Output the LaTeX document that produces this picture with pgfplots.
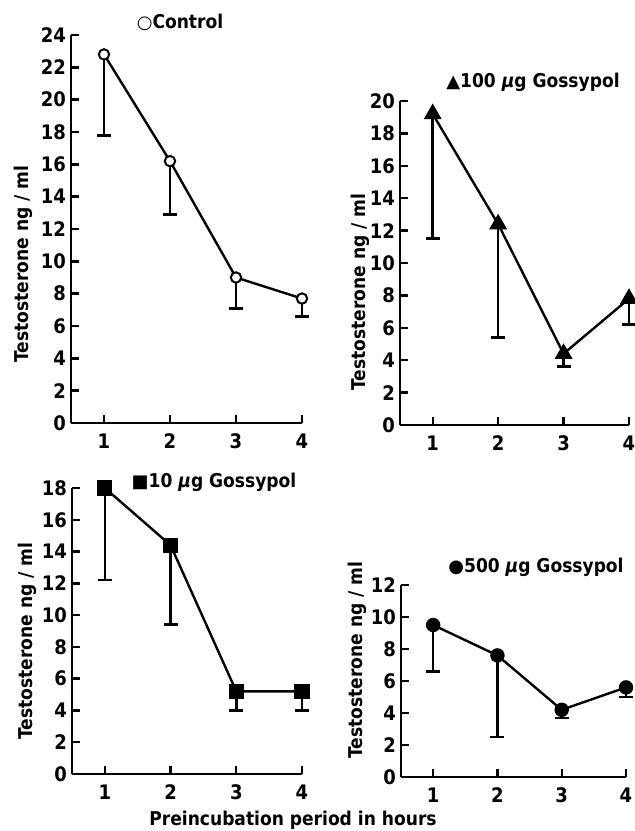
\documentclass[border=0pt]{standalone}
\usepackage{fontspec}
\setmainfont{DejaVu Sans Condensed}
\newfontfamily\sym{DejaVu Sans}
\usepackage{pgfplots}
\pgfplotsset{compat=1.18}

\pgfplotsset{
  panel/.style={
    scale only axis,
    axis x line=bottom, axis y line=left,
    axis line style={-, line width=1.2pt},
    xmin=0.5, xmax=4, ymin=0,
    xtick={1,2,3,4}, ytick distance=2,
    major tick length=4pt,
    tick style={line width=1.2pt, black},
    tick align=inside,
    ticklabel style={font=\fontsize{10}{11}\selectfont\bfseries},
    xticklabel style={yshift=-2pt},
    yticklabel style={xshift=1pt},
    /pgf/number format/assume math mode=true,
    clip=false,
    every axis plot/.append style={line width=1.2pt, black},
  },
  err/.style={
    error bars/.cd, y dir=minus, y explicit,
    error bar style={line width=1.3pt},
    error mark=|,
    error mark options={mark size=3.5pt, line width=1.3pt},
  },
}
\newcommand{\lab}{\fontsize{9.5}{10}\selectfont\bfseries}

\begin{document}
\begin{tikzpicture}[x=0.5pt, y=-0.5pt]
\useasboundingbox (0,0) rectangle (635,831);
\coordinate (A) at (71,423);
\coordinate (B) at (400,425);
\coordinate (C) at (72,774);
\coordinate (D) at (401,777);

% control
\begin{axis}[panel, at={(A)}, anchor=origin, width=115.5pt, height=194pt, ymax=24]
  \addplot[mark=*, mark options={fill=white, mark size=2.6pt, line width=1pt}, err]
  coordinates {(1,22.8) -= (0,5.0) (2,16.2) -= (0,3.3) (3,9.0) -= (0,1.9) (4,7.7) -= (0,1.1)};
\end{axis}

% 100 ug
\begin{axis}[panel, at={(B)}, anchor=origin, width=114.5pt, height=162pt, ymax=20]
  \addplot[mark=triangle*, mark options={mark size=4pt}, err]
  coordinates {(1,19.2) -= (0,7.7) (2,12.4) -= (0,7.0) (3,4.4) -= (0,0.8) (4,7.8) -= (0,1.6)};
\end{axis}

% 10 ug
\begin{axis}[panel, at={(C)}, anchor=origin, width=115pt, height=143pt, ymax=18]
  \addplot[mark=square*, mark options={mark size=3.2pt}, err]
  coordinates {(1,18.0) -= (0,5.8) (2,14.4) -= (0,5.0) (3,5.2) -= (0,1.2) (4,5.2) -= (0,1.2)};
\end{axis}

% 500 ug
\begin{axis}[panel, at={(D)}, anchor=origin, width=112.5pt, height=96pt, ymax=12]
  \addplot[mark=*, mark options={mark size=3pt}, err]
  coordinates {(1,9.5) -= (0,2.9) (2,7.6) -= (0,5.1) (3,4.2) -= (0,0.5) (4,5.6) -= (0,0.6)};
\end{axis}

\node at (180,22) {\lab{\sym\small ○}Control};
\node at (533,82) {\lab{\sym\small ▲}100 \textit{μ}g Gossypol};
\node at (214,482) {\lab{\sym\small ■}10 \textit{μ}g Gossypol};
\node at (536,567) {\lab{\sym\small ●}500 \textit{μ}g Gossypol};

\node[rotate=90] at (23,264) {\lab Testosterone ng / ml};
\node[rotate=90] at (360,292) {\lab Testosterone ng / ml};
\node[rotate=90] at (27,641) {\lab Testosterone ng / ml};
\node[rotate=90] at (357,660) {\lab Testosterone ng / ml};

\node at (293,820) {\lab Preincubation period in hours};
\end{tikzpicture}
\end{document}
